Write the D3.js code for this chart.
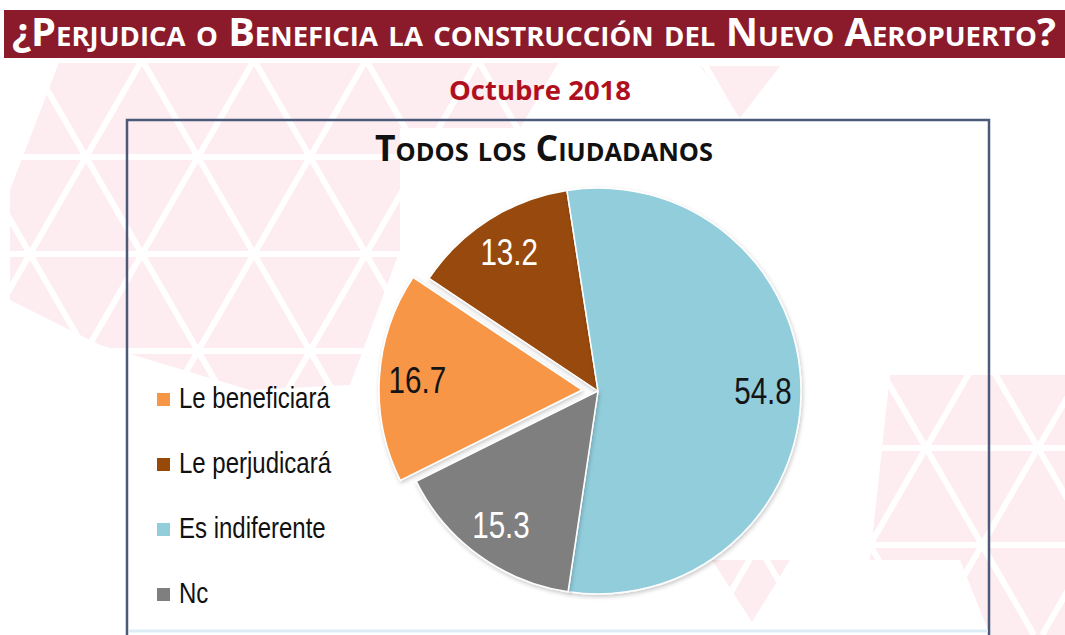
<!doctype html>
<html lang="es">
  <head>
    <meta charset="utf-8">
    <title>¿Perjudica o Beneficia la construcción del Nuevo Aeropuerto?</title>
    <style>
      * { margin: 0; padding: 0; }
      body { width: 1065px; height: 635px; overflow: hidden; background: #fff; }
      svg { display: block; }
    </style>
    <script src="https://cdn.jsdelivr.net/npm/d3@7"></script>
  </head>
  <body>
    <svg id="chart" width="1065" height="635"></svg>

    <script>
      // data
      const categories = ["Le beneficiará", "Le perjudicará", "Es indiferente", "Nc"];
      const values = [16.7, 13.2, 54.8, 15.3];
      const sliceLabels = ["16.7", "13.2", "54.8", "15.3"];
      const colors = ["#f79646", "#984807", "#92cddc", "#7f7f7f"];
      const labelColors = ["#141414", "#ffffff", "#141414", "#ffffff"];
      const exploded = [true, false, false, false];

      const W = 1065, H = 635;
      const cx = 598, cy = 391, radius = 203;
      const deg = Math.PI / 180;

      const svg = d3.select("#chart");
      const defs = svg.append("defs");

      const shadow = defs.append("filter").attr("id", "shadow")
          .attr("x", "-10%").attr("y", "-10%").attr("width", "120%").attr("height", "120%");
      shadow.append("feDropShadow")
          .attr("dx", 1).attr("dy", 2).attr("stdDeviation", 2)
          .attr("flood-color", "#000").attr("flood-opacity", 0.22);

      // background decoration: pale triangle lattice
      const clusters = [
        [[60, 60], [400, 60], [400, 250], [350, 385], [250, 390], [100, 345], [10, 300], [10, 190]],
        [[250, 60], [560, 60], [520, 128], [300, 128]],
        [[700, 66], [780, 66], [740, 118]],
        [[890, 375], [1065, 375], [1065, 635], [990, 635], [960, 560], [870, 560]],
        [[712, 560], [790, 560], [752, 622]]
      ];
      const clip = defs.append("clipPath").attr("id", "decoClip");
      clusters.forEach(p => clip.append("polygon").attr("points", p.map(q => q.join(",")).join(" ")));

      const deco = svg.append("g").attr("clip-path", "url(#decoClip)");
      deco.append("rect").attr("width", W).attr("height", H).attr("fill", "#fdecf0");
      const side = 112, hgt = side * Math.sqrt(3) / 2, t60 = Math.tan(60 * deg);
      for (let k = 0; k < 7; k++) {
        const y = 60 + k * hgt;
        deco.append("line").attr("x1", 0).attr("x2", W).attr("y1", y).attr("y2", y)
            .attr("stroke", "#fff").attr("stroke-width", 6);
      }
      for (let k = -8; k < 14; k++) {
        const x0 = 30 + k * side;
        deco.append("line").attr("x1", x0).attr("y1", 60).attr("x2", x0 + (H - 60) / t60).attr("y2", H)
            .attr("stroke", "#fff").attr("stroke-width", 6);
        deco.append("line").attr("x1", x0).attr("y1", 60).attr("x2", x0 - (H - 60) / t60).attr("y2", H)
            .attr("stroke", "#fff").attr("stroke-width", 6);
      }

      // title bar
      svg.append("rect").attr("x", 4).attr("y", 10).attr("width", W - 4).attr("height", 48)
          .attr("fill", "#8b1b2b");
      svg.append("text")
          .attr("x", 12).attr("y", 46)
          .attr("textLength", 1044).attr("lengthAdjust", "spacingAndGlyphs")
          .style("font-family", "'Open Sans', 'DejaVu Sans', sans-serif")
          .style("font-weight", 700).style("font-size", "39px")
          .style("font-variant", "small-caps")
          .attr("fill", "#fff")
          .text("¿Perjudica o Beneficia la construcción del Nuevo Aeropuerto?");

      svg.append("text")
          .attr("x", 540).attr("y", 100).attr("text-anchor", "middle")
          .attr("textLength", 182).attr("lengthAdjust", "spacingAndGlyphs")
          .style("font-family", "'Open Sans', sans-serif")
          .style("font-weight", 700).style("font-size", "27px")
          .attr("fill", "#b0101e")
          .text("Octubre 2018");

      // chart frame
      svg.append("rect").attr("x", 127).attr("y", 120).attr("width", 862).attr("height", 540)
          .attr("fill", "none").attr("stroke", "#4b5a78").attr("stroke-width", 2.5);
      svg.append("line").attr("x1", 129).attr("x2", 988).attr("y1", 631).attr("y2", 631)
          .attr("stroke", "#dcedf6").attr("stroke-width", 3);

      svg.append("text")
          .attr("x", 375).attr("y", 161)
          .attr("textLength", 338).attr("lengthAdjust", "spacingAndGlyphs")
          .style("font-family", "'Open Sans', 'DejaVu Sans', sans-serif")
          .style("font-weight", 700).style("font-size", "35px")
          .style("font-variant", "small-caps")
          .attr("fill", "#111")
          .text("Todos los Ciudadanos");

      // pie
      const start = -8.8 * deg - (values[0] + values[1]) / 100 * 2 * Math.PI;
      const pie = d3.pie().sort(null).value(d => d.value)
          .startAngle(start).endAngle(start + 2 * Math.PI);
      const rows = categories.map((c, i) => ({
        name: c, value: values[i], label: sliceLabels[i],
        color: colors[i], labelColor: labelColors[i], out: exploded[i]
      }));
      const arcs = pie(rows);
      const arc = d3.arc().innerRadius(0).outerRadius(radius);
      const labelArc = d3.arc().innerRadius(165).outerRadius(165);

      const offset = d => {
        if (!d.data.out) return [0, 0];
        const a = (d.startAngle + d.endAngle) / 2;
        return [Math.sin(a) * 16, -Math.cos(a) * 16];
      };

      const pieG = svg.append("g").attr("transform", `translate(${cx},${cy})`);
      const slice = pieG.selectAll("g.slice").data(arcs).join("g")
          .attr("class", "slice")
          .attr("transform", d => `translate(${offset(d)})`);

      slice.append("path")
          .attr("d", arc)
          .attr("fill", d => d.data.color)
          .attr("stroke", "#fff").attr("stroke-width", 1.5)
          .attr("stroke-linejoin", "round")
          .attr("filter", "url(#shadow)");

      slice.append("text")
          .attr("transform", d => {
            const [x, y] = labelArc.centroid(d);
            return `translate(${x},${y}) scale(0.8,1)`;
          })
          .attr("text-anchor", "middle").attr("dy", "0.36em")
          .style("font-family", "'Liberation Sans', Arial, sans-serif")
          .style("font-size", "37px")
          .attr("fill", d => d.data.labelColor)
          .text(d => d.data.label);

      // legend
      const legendY = d3.scalePoint().domain(categories).range([400, 595]);
      const legend = svg.append("g").selectAll("g").data(rows).join("g")
          .attr("transform", d => `translate(157,${legendY(d.name)})`);
      legend.append("rect")
          .attr("x", 0).attr("y", -7).attr("width", 13).attr("height", 13)
          .attr("fill", d => d.color);
      legend.append("text")
          .attr("transform", "translate(22,8) scale(0.8,1)")
          .style("font-family", "'Liberation Sans', Arial, sans-serif")
          .style("font-size", "30px")
          .attr("fill", "#111")
          .text(d => d.name);
    </script>
  </body>
</html>
